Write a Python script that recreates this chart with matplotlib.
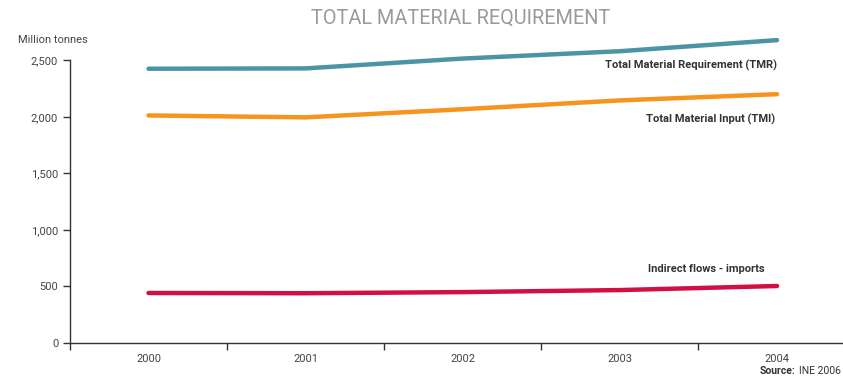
import matplotlib
matplotlib.use("Agg")
import matplotlib.pyplot as plt

plt.rcParams['font.family'] = ['Roboto', 'DejaVu Sans']

years = ['2000', '2001', '2002', '2003', '2004']
tmr = [2425, 2428, 2515, 2580, 2678]
tmi = [2012, 1995, 2067, 2145, 2200]
indirect = [442, 440, 450, 468, 504]

fig = plt.figure(figsize=(8.43, 3.78), dpi=100)
ax = fig.add_axes([0.083, 0.0926, 0.917, 0.748])

x = list(range(len(years)))
ax.plot(x, tmr, color='#4a94a6', lw=3.2, solid_capstyle='round', clip_on=False)
ax.plot(x, tmi, color='#f7941d', lw=3.2, solid_capstyle='round', clip_on=False)
ax.plot(x, indirect, color='#d20f44', lw=3.2, solid_capstyle='round', clip_on=False)

ax.set_xlim(-0.5, 4.42)
ax.set_ylim(0, 2500)

# boundary ticks without labels, year labels centred between them
ax.set_xticks([i - 0.5 for i in range(len(years))])
ax.set_xticklabels([])
ax.set_xticks(x, minor=True)
ax.set_xticklabels(years, minor=True)
ax.tick_params(axis='x', which='major', length=5, width=1, color='#333333')
ax.tick_params(axis='x', which='minor', length=0, pad=8, labelsize=8, labelcolor='#444444')

ax.set_yticks([0, 500, 1000, 1500, 2000, 2500])
ax.set_yticklabels(['0', '500', '1,000', '1,500', '2,000', '2,500'])
ax.tick_params(axis='y', length=5, width=1, color='#333333', labelsize=8, labelcolor='#444444')

for s in ['top', 'right']:
    ax.spines[s].set_visible(False)
for s in ['left', 'bottom']:
    ax.spines[s].set_color('#333333')
    ax.spines[s].set_linewidth(1)

lbl = dict(ha='right', va='center', fontsize=8, color='#333333', fontweight='semibold')
ax.text(4.0, 2456, 'Total Material Requirement (TMR)', **lbl)
ax.text(3.99, 1979, 'Total Material Input (TMI)', **lbl)
ax.text(3.92, 654, 'Indirect flows - imports', **lbl)

fig.text(0.547, 0.952, 'TOTAL MATERIAL REQUIREMENT', ha='center', va='center',
         fontsize=14.3, color='#9a9a9a')
fig.text(0.021, 0.895, 'Million tonnes', ha='left', va='center', fontsize=8, color='#444444')
fig.text(0.997, 0.005, 'INE 2006', ha='right', va='bottom', fontsize=7.5, color='#333333')
fig.text(0.997 - 0.054, 0.005, 'Source:', ha='right', va='bottom', fontsize=7.5,
         color='#333333', fontweight='bold')

fig.savefig('out.png', dpi=100)
